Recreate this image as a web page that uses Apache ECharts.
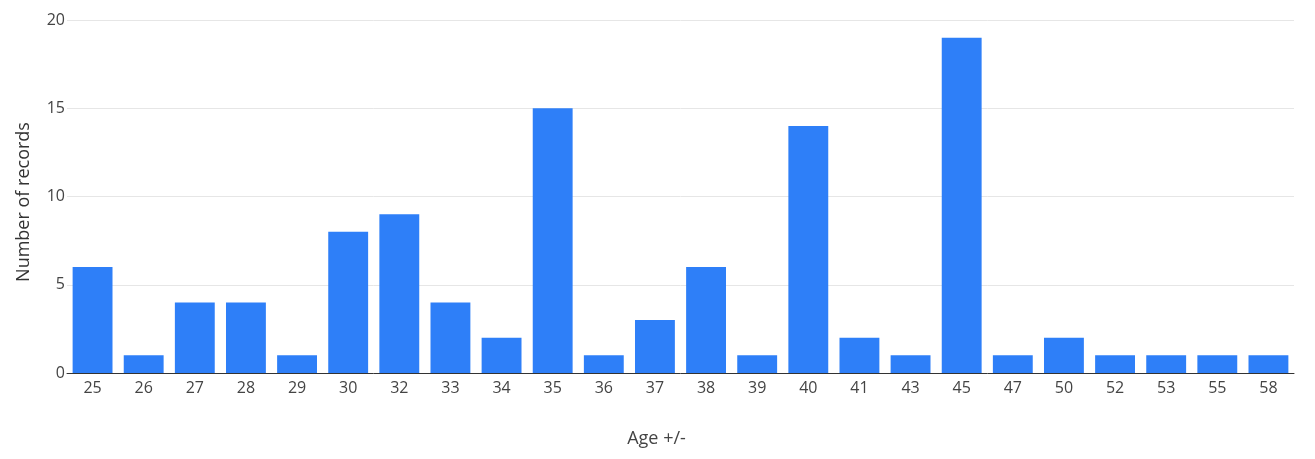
<!DOCTYPE html>
<html><head><meta charset="utf-8">
<script src="https://cdn.jsdelivr.net/npm/echarts@6/dist/echarts.min.js"></script>
<style>html,body{margin:0;padding:0;background:#fff}#c{width:1315px;height:459px}</style>
</head><body><div id="c"></div>
<script>
const categories = ['25','26','27','28','29','30','32','33','34','35','36','37','38','39','40','41','43','45','47','50','52','53','55','58'];
const records = [6,1,4,4,1,8,9,4,2,15,1,3,6,1,14,2,1,19,1,2,1,1,1,1];
const yTicks = {min:0, max:20, interval:5};
const font = '"Open Sans", "Noto Sans", sans-serif';
const chart = echarts.init(document.getElementById('c'), null, {renderer:'canvas'});
chart.setOption({
  animation:false,
  grid:{left:67, right:21, top:20, bottom:86},
  xAxis:{type:'category', data:categories,
    name:'Age +/-', nameLocation:'middle', nameGap:57,
    nameTextStyle:{fontFamily:font, fontSize:18, color:'#444', padding:[0,48,0,0]},
    axisLine:{lineStyle:{color:'#333', width:1}},
    axisTick:{show:false},
    axisLabel:{fontFamily:font, fontSize:16, color:'#444', margin:7}},
  yAxis:{type:'value', min:yTicks.min, max:yTicks.max, interval:yTicks.interval,
    name:'Number of records', nameLocation:'middle', nameGap:34,
    nameTextStyle:{fontFamily:font, fontSize:18, color:'#333', padding:[0,11,0,0]},
    axisLine:{show:false},
    axisTick:{show:false},
    splitLine:{lineStyle:{color:'#e6e6e6'}},
    axisLabel:{fontFamily:font, fontSize:16, color:'#444', margin:2}},
  series:[{type:'bar', data:records, barCategoryGap:'22%',
    itemStyle:{color:'#2E7FF8'}}]
});
</script></body></html>
